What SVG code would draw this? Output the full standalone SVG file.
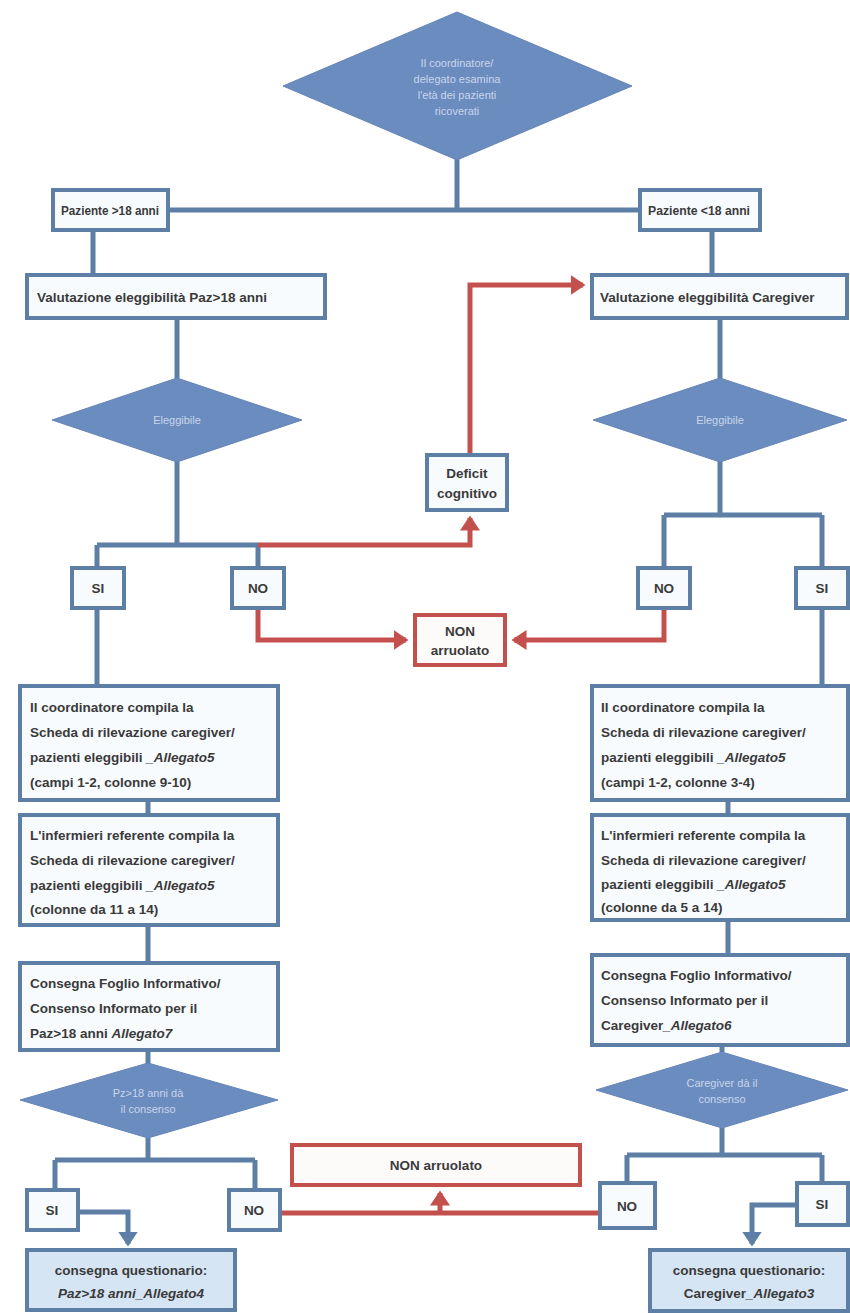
<svg xmlns="http://www.w3.org/2000/svg" width="850" height="1313" viewBox="0 0 850 1313">
<defs>
<style>
.box{fill:#f8fbfe;stroke:#5d7fa5;stroke-width:4}
.fin{fill:#d6e5f4;stroke:#5d7fa5;stroke-width:4}
.rbox{fill:#fdfafa;stroke:#c4504e;stroke-width:4}
.dia{fill:#6b8cbf;stroke:#6584b8;stroke-width:1}
.t{font-family:"Liberation Sans",Arial,sans-serif;font-weight:bold;font-size:13.5px;fill:#3a3a3a}
.tc{text-anchor:middle}
.dt{font-family:"Liberation Sans",Arial,sans-serif;font-size:11px;fill:#c9d5ea;text-anchor:middle}
.bl{fill:none;stroke:#5d7fa5;stroke-width:5}
.rl{fill:none;stroke:#c4504e;stroke-width:5}
</style>
<marker id="ab" markerWidth="4" markerHeight="4" refX="2.5" refY="2" orient="auto" markerUnits="strokeWidth"><path d="M0,0 L3,2 L0,4 z" fill="#5d7fa5"/></marker>
<marker id="ar" markerWidth="4" markerHeight="4" refX="2.5" refY="2" orient="auto" markerUnits="strokeWidth"><path d="M0,0 L3,2 L0,4 z" fill="#c4504e"/></marker>
</defs>
<rect width="850" height="1313" fill="#ffffff"/>
<g id="connectors">
<path class="bl" d="M457,158 V210 M168,210 H640"/>
<path class="bl" d="M93,230 V275 M712,230 V275"/>
<path class="bl" d="M177,318 V380 M720,318 V380"/>
<path class="bl" d="M177,460 V545 M97,545 H258 M97,545 V568 M258,545 V568"/>
<path class="bl" d="M720,460 V515 M664,515 H822 M664,515 V568 M822,515 V568"/>
<path class="rl" d="M258,545 H470 V518" marker-end="url(#ar)"/>
<path class="rl" d="M470,455 V285 H583" marker-end="url(#ar)"/>
<path class="rl" d="M258,608 V640 H406" marker-end="url(#ar)"/>
<path class="rl" d="M664,608 V640 H514" marker-end="url(#ar)"/>
<path class="bl" d="M97,608 V686 M822,608 V686"/>
<path class="bl" d="M148,800 V815 M148,925 V963 M148,1050 V1065"/>
<path class="bl" d="M728,800 V815 M728,920 V955 M722,1045 V1052"/>
<path class="bl" d="M148,1138 V1160 M55,1160 H255 M55,1160 V1190 M255,1160 V1190"/>
<path class="bl" d="M722,1128 V1155 M627,1155 H822 M627,1155 V1183 M822,1155 V1183"/>
<path class="bl" d="M78,1212 H128 V1244" marker-end="url(#ab)"/>
<path class="bl" d="M797,1205 H752 V1244" marker-end="url(#ab)"/>
<path class="rl" d="M280,1213 H600"/>
<path class="rl" d="M440,1213 V1193" marker-end="url(#ar)"/>
</g>
<g id="n-start"><polygon class="dia" points="457,12 632,86 457,160 283,86"/>
<text class="dt" x="457" y="67">Il coordinatore/</text><text class="dt" x="457" y="83">delegato esamina</text><text class="dt" x="457" y="99">l'età dei pazienti</text><text class="dt" x="457" y="115">ricoverati</text></g>
<g id="n-pazgt"><rect class="box" x="53" y="190" width="115" height="40"/><text class="t" x="61" y="215" textLength="98" lengthAdjust="spacingAndGlyphs">Paziente &gt;18 anni</text></g>
<g id="n-pazlt"><rect class="box" x="640" y="190" width="120" height="40"/><text class="t" x="648" y="215" textLength="102" lengthAdjust="spacingAndGlyphs">Paziente &lt;18 anni</text></g>
<g id="n-valpaz"><rect class="box" x="27" y="275" width="298" height="43"/><text class="t" x="37" y="302">Valutazione eleggibilità  Paz&gt;18 anni</text></g>
<g id="n-valcg"><rect class="box" x="592" y="275" width="255" height="43"/><text class="t" x="600" y="302">Valutazione eleggibilità Caregiver</text></g>
<g id="n-elegl"><polygon class="dia" points="177,378 302,420 177,462 52,420"/><text class="dt" x="177" y="424">Eleggibile</text></g>
<g id="n-elegr"><polygon class="dia" points="720,378 847,420 720,462 593,420"/><text class="dt" x="720" y="424">Eleggibile</text></g>
<g id="n-deficit"><rect class="box" x="427" y="455" width="80" height="55"/><text class="t tc" x="467" y="478">Deficit</text><text class="t tc" x="467" y="498">cognitivo</text></g>
<g id="n-sil"><rect class="box" x="72" y="568" width="52" height="40"/><text class="t tc" x="98" y="593">SI</text></g>
<g id="n-nol"><rect class="box" x="232" y="568" width="52" height="40"/><text class="t tc" x="258" y="593">NO</text></g>
<g id="n-nor"><rect class="box" x="638" y="568" width="52" height="40"/><text class="t tc" x="664" y="593">NO</text></g>
<g id="n-sir"><rect class="box" x="796" y="568" width="52" height="40"/><text class="t tc" x="822" y="593">SI</text></g>
<g id="n-non1"><rect class="rbox" x="415" y="615" width="90" height="50"/><text class="t tc" x="460" y="636">NON</text><text class="t tc" x="460" y="655">arruolato</text></g>
<g id="n-coordl"><rect class="box" x="20" y="686" width="258" height="114"/>
<text class="t" x="30" y="712">Il coordinatore compila la</text><text class="t" x="30" y="737">Scheda di rilevazione caregiver/</text><text class="t" x="30" y="762">pazienti eleggibili <tspan font-style="italic">_Allegato5</tspan></text><text class="t" x="30" y="787">(campi 1-2, colonne 9-10)</text></g>
<g id="n-coordr"><rect class="box" x="592" y="686" width="256" height="114"/>
<text class="t" x="601" y="712">Il coordinatore compila la</text><text class="t" x="601" y="737">Scheda di rilevazione caregiver/</text><text class="t" x="601" y="762">pazienti eleggibili <tspan font-style="italic">_Allegato5</tspan></text><text class="t" x="601" y="787">(campi 1-2, colonne 3-4)</text></g>
<g id="n-infl"><rect class="box" x="20" y="815" width="258" height="110"/>
<text class="t" x="30" y="840">L'infermieri referente compila la</text><text class="t" x="30" y="865">Scheda di rilevazione caregiver/</text><text class="t" x="30" y="890">pazienti eleggibili <tspan font-style="italic">_Allegato5</tspan></text><text class="t" x="30" y="914">(colonne da 11 a 14)</text></g>
<g id="n-infr"><rect class="box" x="592" y="815" width="256" height="105"/>
<text class="t" x="601" y="840">L'infermieri referente compila la</text><text class="t" x="601" y="865">Scheda di rilevazione caregiver/</text><text class="t" x="601" y="889">pazienti eleggibili <tspan font-style="italic">_Allegato5</tspan></text><text class="t" x="601" y="912">(colonne da 5 a 14)</text></g>
<g id="n-consl"><rect class="box" x="20" y="963" width="258" height="87"/>
<text class="t" x="30" y="988">Consegna Foglio Informativo/</text><text class="t" x="30" y="1013">Consenso Informato per il</text><text class="t" x="30" y="1038">Paz&gt;18 anni <tspan font-style="italic">Allegato7</tspan></text></g>
<g id="n-consr"><rect class="box" x="592" y="955" width="256" height="90"/>
<text class="t" x="601" y="980">Consegna Foglio Informativo/</text><text class="t" x="601" y="1005">Consenso Informato per il</text><text class="t" x="601" y="1030">Caregiver<tspan font-style="italic">_Allegato6</tspan></text></g>
<g id="n-dcl"><polygon class="dia" points="148,1063 278,1100 148,1138 20,1100"/><text class="dt" x="148" y="1097">Pz&gt;18 anni dà</text><text class="dt" x="148" y="1113">il consenso</text></g>
<g id="n-dcr"><polygon class="dia" points="722,1052 848,1090 722,1128 596,1090"/><text class="dt" x="722" y="1087">Caregiver dà il</text><text class="dt" x="722" y="1103">consenso</text></g>
<g id="n-non2"><rect class="rbox" x="292" y="1145" width="288" height="40"/><text class="t tc" x="436" y="1170">NON arruolato</text></g>
<g id="n-sil2"><rect class="box" x="27" y="1190" width="51" height="40"/><text class="t tc" x="52" y="1215">SI</text></g>
<g id="n-nol2"><rect class="box" x="229" y="1190" width="51" height="40"/><text class="t tc" x="254" y="1215">NO</text></g>
<g id="n-nor2"><rect class="box" x="600" y="1183" width="55" height="45"/><text class="t tc" x="627" y="1211">NO</text></g>
<g id="n-sir2"><rect class="box" x="797" y="1183" width="51" height="42"/><text class="t tc" x="822" y="1209">SI</text></g>
<g id="n-qpaz"><rect class="fin" x="27" y="1250" width="208" height="60"/><text class="t tc" x="131" y="1275">consegna questionario:</text><text class="t tc" x="131" y="1298" font-style="italic">Paz&gt;18 anni_Allegato4</text></g>
<g id="n-qcg"><rect class="fin" x="650" y="1250" width="198" height="61"/><text class="t tc" x="749" y="1275">consegna questionario:</text><text class="t tc" x="749" y="1298">Caregiver<tspan font-style="italic">_Allegato3</tspan></text></g>
</svg>
